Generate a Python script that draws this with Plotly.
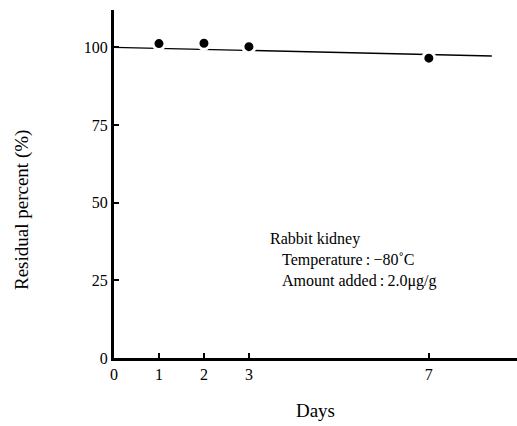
import plotly.graph_objects as go

days = [1, 2, 3, 7]
residual = [101.2, 101.3, 100.2, 96.5]
fit_days = [0, 8.4]
fit_vals = [100.0, 97.2]
x_ticks = [0, 1, 2, 3, 7]
y_ticks = [0, 25, 50, 75, 100]

font = "Liberation Serif, Times New Roman, serif"

fig = go.Figure()
fig.add_trace(go.Scatter(x=fit_days, y=fit_vals, mode="lines",
                         line=dict(color="black", width=1.3), showlegend=False))
fig.add_trace(go.Scatter(x=days, y=residual, mode="markers",
                         marker=dict(color="black", size=12, line=dict(color="white", width=3)),
                         showlegend=False))

fig.add_annotation(x=3.42, y=42, xref="x", yref="y", xanchor="left", yanchor="top",
                   align="left", showarrow=False,
                   text="Rabbit kidney<br>\u00a0\u00a0\u00a0Temperature\u2009:\u2009\u221280\u02daC<br>\u00a0\u00a0\u00a0Amount added\u2009:\u20092.0\u03bcg/g",
                   font=dict(family=font, size=16, color="black"))

fig.add_annotation(xref="paper", yref="paper",
                   x=(22 - 114) / (517 - 114), y=(358 - 210) / (358 - 10),
                   xanchor="center", yanchor="middle", showarrow=False,
                   text="Residual percent (%)", textangle=-90,
                   font=dict(family=font, size=19, color="black"))

fig.update_layout(
    width=517, height=426,
    margin=dict(l=114, r=0, t=10, b=68),
    paper_bgcolor="white", plot_bgcolor="white",
    font=dict(family=font, size=16, color="black"),
    xaxis=dict(range=[0, 8.96], tickvals=x_ticks, ticks="inside", ticklen=5, tickwidth=1.5,
               tickcolor="black", showline=True, linecolor="black", linewidth=3,
               showgrid=False, zeroline=False, title=dict(text="Days", standoff=22),
               tickfont=dict(size=16)),
    yaxis=dict(range=[0, 112], tickvals=y_ticks, ticks="inside", ticklen=5, tickwidth=1.5,
               tickcolor="black", showline=True, linecolor="black", linewidth=3,
               showgrid=False, zeroline=False, tickfont=dict(size=16)),
)

fig.write_html("out.html")
